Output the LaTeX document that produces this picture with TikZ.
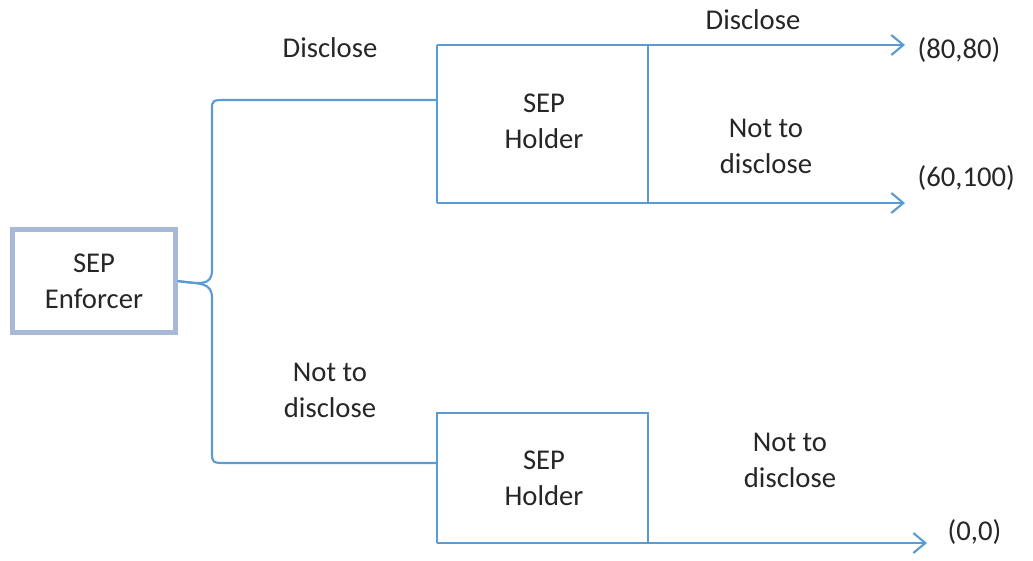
\documentclass[tikz,border=0pt]{standalone}
\usepackage{fontspec}
\setmainfont{Carlito}
\usetikzlibrary{arrows.meta}
\definecolor{linkblue}{RGB}{91,155,213}
\definecolor{boxgray}{RGB}{167,185,214}
\definecolor{txtgray}{RGB}{38,38,38}
\begin{document}
\begin{tikzpicture}[x=0.75pt,y=-0.75pt,
  lbl/.style={align=center,text=txtgray,font=\fontsize{21.5}{27}\selectfont},
  branch/.style={draw=linkblue,line width=1.6pt},
  move/.style={branch,-{Straight Barb[length=9pt,width=15pt,line width=1.6pt]}}]
  \useasboundingbox (0,0) rectangle (1033,561);
  % players
  \node[lbl,draw=boxgray,line width=3.5pt,minimum width=122pt,minimum height=77pt] (enf) at (94,281) {SEP\\Enforcer};
  \node[lbl] (hold1) at (544,121) {SEP\\Holder};
  \node[lbl] (hold2) at (544,478) {SEP\\Holder};
  % corners of the holder frames
  \coordinate (a1) at (437,45);
  \coordinate (b1) at (437,203);
  \coordinate (c1) at (648,45);
  \coordinate (d1) at (648,203);
  \coordinate (a2) at (437,413);
  \coordinate (b2) at (437,543);
  \coordinate (c2) at (648,413);
  \coordinate (d2) at (648,543);
  % payoffs
  \node[lbl,anchor=west] (pay1) at (913,50) {(80,80)};
  \node[lbl,anchor=west] (pay2) at (913,178) {(60,100)};
  \node[lbl,anchor=west] (pay3) at (943,532) {(0,0)};
  \coordinate (e1) at (905,45);
  \coordinate (e2) at (905,203);
  \coordinate (e3) at (927,543);
  % enforcer brace
  \draw[branch] (enf.east) .. controls (200,284) and (212,286) .. (212,270) -- (212,110)
    .. controls (212,100) .. (228,100) -- (a1 |- 0,100);
  \draw[branch] (enf.east) .. controls (200,284) and (212,282) .. (212,298) -- (212,452)
    .. controls (212,463) .. (228,463) -- (a2 |- 0,463);
  % holder frames
  \draw[branch] (a1) -- (b1);
  \draw[branch] (c1) -- (d1);
  \draw[move] (a1) -- (e1);
  \draw[move] (b1) -- (e2);
  \draw[branch] (b2) -- (a2) -- (c2) -- (d2);
  \draw[move] (b2) -- (e3);
  % move labels
  \node[lbl] at (330,48) {Disclose};
  \node[lbl] at (330,390) {Not to\\disclose};
  \node[lbl] at (753,20) {Disclose};
  \node[lbl] at (766,146) {Not to\\disclose};
  \node[lbl] at (790,460) {Not to\\disclose};
\end{tikzpicture}
\end{document}
